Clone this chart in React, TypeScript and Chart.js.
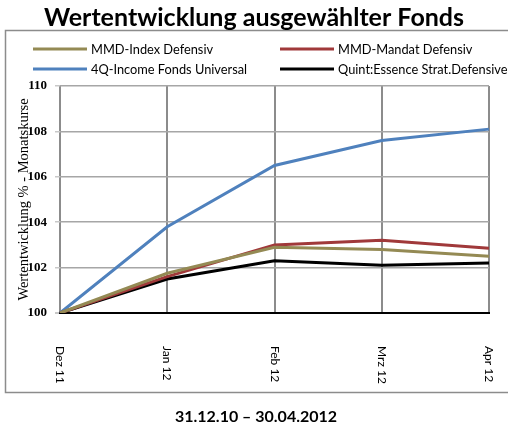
import { useEffect, useRef } from "react";
import { Chart, registerables } from "chart.js";

Chart.register(...registerables);

const chartTitle = "Wertentwicklung ausgewählter Fonds";
const periodLabel = "31.12.10 – 30.04.2012";
const yAxisTitle = "Wertentwicklung % - Monatskurse";

const categories = ["Dez 11", "Jan 12", "Feb 12", "Mrz 12", "Apr 12"];
const seriesNames = [
  "MMD-Index Defensiv",
  "MMD-Mandat Defensiv",
  "4Q-Income Fonds Universal",
  "Quint:Essence Strat.Defensive",
];
const mmdIndexDefensiv = [100, 101.75, 102.9, 102.8, 102.5];
const mmdMandatDefensiv = [100, 101.6, 103.0, 103.2, 102.85];
const incomeFondsUniversal = [100, 103.8, 106.5, 107.6, 108.1];
const quintEssence = [100, 101.5, 102.3, 102.1, 102.2];
const seriesColors = ["#948A54", "#A0393A", "#4F81BD", "#000000"];
const yMin = 100;
const yMax = 110;
const yStep = 2;

const decorPlugin = {
  id: "decor",
  beforeDraw(chart: any) {
    const ctx = chart.ctx;
    ctx.save();
    ctx.fillStyle = "#ffffff";
    ctx.fillRect(0, 0, chart.width, chart.height);
    ctx.strokeStyle = "#8c8c8c";
    ctx.lineWidth = 1.5;
    ctx.strokeRect(5.5, 30.5, 520, 362);
    ctx.restore();
  },
  afterDraw(chart: any) {
    const ctx = chart.ctx;
    ctx.save();
    // title
    ctx.fillStyle = "#000";
    ctx.font = "bold 25px Lato";
    ctx.textAlign = "center";
    ctx.textBaseline = "alphabetic";
    ctx.fillText(chartTitle, 254, 26);
    // legend
    ctx.font = "12.8px Lato";
    ctx.textAlign = "left";
    ctx.textBaseline = "middle";
    chart.data.datasets.forEach((ds: any, i: number) => {
      const col = i % 2;
      const row = Math.floor(i / 2);
      const lx = col === 0 ? 33 : 280;
      const tx = col === 0 ? 91 : 338;
      const y = row === 0 ? 49 : 69;
      ctx.strokeStyle = ds.borderColor;
      ctx.lineWidth = 3;
      ctx.beginPath();
      ctx.moveTo(lx, y);
      ctx.lineTo(lx + 54, y);
      ctx.stroke();
      ctx.fillStyle = "#000";
      ctx.fillText(ds.label, tx, y + 0.5);
    });
    // x labels (rotated, reading top to bottom)
    const xs = chart.scales.x;
    ctx.font = "12px Lato";
    ctx.fillStyle = "#000";
    ctx.textAlign = "left";
    ctx.textBaseline = "middle";
    (chart.data.labels as string[]).forEach((lab: string, i: number) => {
      const x = xs.getPixelForValue(i);
      ctx.save();
      ctx.translate(x, 346);
      ctx.rotate(Math.PI / 2);
      ctx.fillText(lab, 0, 0);
      ctx.restore();
    });
    // period
    ctx.font = "bold 16px Lato";
    ctx.textAlign = "center";
    ctx.textBaseline = "middle";
    ctx.fillText(periodLabel, 256, 417);
    ctx.restore();
  },
};

export default function App() {
  const ref = useRef<HTMLCanvasElement | null>(null);
  useEffect(() => {
    if (!ref.current) return;
    const seriesValues = [mmdIndexDefensiv, mmdMandatDefensiv, incomeFondsUniversal, quintEssence];
    const chart = new Chart(ref.current, {
      type: "line",
      data: {
        labels: categories,
        datasets: seriesNames.map((name, i) => ({
          label: name,
          data: seriesValues[i],
          borderColor: seriesColors[i],
          backgroundColor: seriesColors[i],
          borderWidth: 3,
          pointRadius: 0,
          tension: 0,
          fill: false,
        })),
      },
      options: {
        responsive: false,
        animation: false,
        devicePixelRatio: 1,
        layout: { padding: { left: 5, top: 86, right: 19, bottom: 0 } },
        plugins: { legend: { display: false }, title: { display: false }, tooltip: { enabled: false } },
        scales: {
          x: {
            type: "category",
            offset: false,
            ticks: { display: false },
            grid: { color: "#8c8c8c", lineWidth: 2, drawTicks: false },
            border: { display: true, color: "#000", width: 2 },
            afterFit: (s: any) => {
              s.height = 115;
            },
          },
          y: {
            min: yMin,
            max: yMax,
            ticks: {
              stepSize: yStep,
              color: "#000",
              padding: 8,
              font: { family: "'Liberation Serif'", size: 13, weight: "bold" },
            },
            grid: {
              color: (c: any) => (c.tick && c.tick.value === yMin ? "#000" : "#a6a6a6"),
              lineWidth: (c: any) => (c.tick && c.tick.value === yMin ? 2 : 1.5),
              tickLength: 5,
              tickColor: "#c8c8c8",
            },
            border: { display: false },
            title: {
              display: true,
              text: yAxisTitle,
              color: "#000",
              font: { family: "'Liberation Serif'", size: 14.5 },
              padding: { top: 10, bottom: 0 },
            },
            afterFit: (s: any) => {
              s.width = 55;
            },
          },
        },
      },
      plugins: [decorPlugin],
    });
    return () => chart.destroy();
  }, []);
  return (
    <div style={{ position: "absolute", left: 0, top: 0 }}>
      <canvas ref={ref} width={508} height={428} style={{ display: "block" }} />
    </div>
  );
}
